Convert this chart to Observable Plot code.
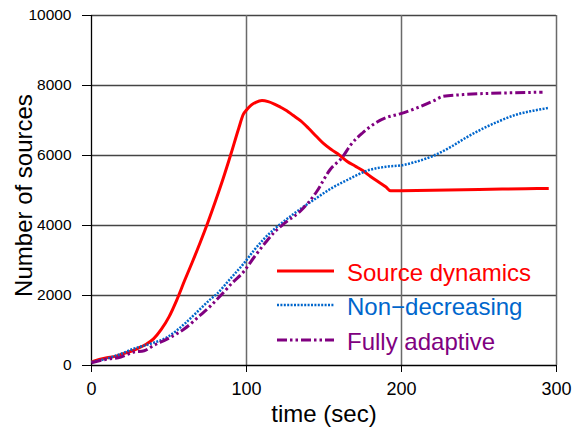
<!DOCTYPE html>
<html>
<head>
<meta charset="utf-8">
<script src="https://cdn.jsdelivr.net/npm/d3@7"></script>
<script src="https://cdn.jsdelivr.net/npm/@observablehq/plot@0.6"></script>
<style>
  html, body { margin: 0; padding: 0; background: #fff; }
  #chart svg { display: block; }
</style>
</head>
<body>
<div id="chart"></div>
<script>
// ---- data ----
const sourceT = [0, 5, 10, 15, 20, 25, 30, 35, 40, 45, 50, 55, 60, 65, 70, 75, 80, 85, 90, 95, 98, 100, 103, 106, 110, 114, 118, 122, 126, 130, 135, 140, 145, 150, 155, 160, 165, 170, 175, 180, 185, 190, 193, 200, 220, 250, 280, 295];
const sourceV = [100, 170, 220, 260, 330, 400, 490, 600, 760, 1030, 1390, 1870, 2420, 2950, 3500, 4080, 4700, 5350, 6050, 6780, 7180, 7300, 7440, 7520, 7570, 7540, 7470, 7380, 7280, 7150, 6990, 6780, 6550, 6330, 6160, 6010, 5830, 5700, 5570, 5400, 5250, 5100, 4990, 4995, 5010, 5030, 5050, 5060];

const nondecT = [0, 10, 20, 27, 38, 49, 60, 70, 77, 81, 88, 93, 98, 105, 112, 118, 125, 135, 145, 155, 165, 178, 190, 200, 210, 221, 232, 242, 253, 264, 275, 285, 295];
const nondecV = [100, 200, 350, 476, 620, 810, 1190, 1610, 1905, 2050, 2400, 2650, 2900, 3300, 3650, 3900, 4150, 4480, 4780, 5070, 5300, 5570, 5680, 5720, 5830, 6000, 6250, 6520, 6780, 7000, 7180, 7280, 7360];

const adaptT = [0, 10, 19, 27, 34, 40, 49, 60, 70, 77, 85, 91, 98, 105, 112, 118, 125, 135, 145, 154, 162, 167, 175, 184, 190, 199, 210, 221, 227, 240, 253, 270, 291];
const adaptV = [80, 180, 240, 380, 420, 570, 760, 1050, 1430, 1710, 2080, 2370, 2670, 3100, 3500, 3810, 4080, 4420, 4950, 5600, 5960, 6290, 6650, 6950, 7080, 7190, 7360, 7570, 7690, 7740, 7770, 7790, 7810];

const seriesNames = ["Source dynamics", "Non\u2212decreasing", "Fully adaptive"];
const seriesColors = ["#ff0000", "#0066cc", "#800080"];
const seriesDash = [null, "2,1.4", "10,3,2.5,3,2.5,3"];
const xTicks = [0, 100, 200, 300];
const yTicks = [0, 2000, 4000, 6000, 8000, 10000];
const xLabel = "time (sec)";
const yLabel = "Number of sources";

const toRows = (T, V) => T.map((t, i) => ({t, v: V[i]}));
const series = [toRows(sourceT, sourceV), toRows(nondecT, nondecV), toRows(adaptT, adaptV)];

const font = "'Liberation Sans', Arial, sans-serif";

// legend drawn as a function mark
function legendMark() {
  const g = d3.create("svg:g").attr("font-family", font).attr("text-anchor", "start");
  const x0 = 277, x1 = 334, tx = 347;
  const ys = [271, 305, 340];
  seriesNames.forEach((name, i) => {
    g.append("line")
      .attr("x1", x0).attr("x2", x1).attr("y1", ys[i]).attr("y2", ys[i])
      .attr("stroke", seriesColors[i])
      .attr("stroke-width", i === 1 ? 2.5 : 3)
      .attr("stroke-dasharray", seriesDash[i]);
    g.append("text")
      .attr("x", tx).attr("y", ys[i] + 2)
      .attr("dy", "0.35em")
      .attr("text-anchor", "start")
      .attr("font-size", 24)
      .attr("fill", seriesColors[i])
      .text(name);
  });
  return g.node();
}

const chart = Plot.plot({
  width: 576,
  height: 432,
  marginLeft: 91,
  marginRight: 20,
  marginTop: 15,
  marginBottom: 67,
  style: {fontFamily: font, background: "#fff", color: "#000"},
  x: {domain: [0, 300]},
  y: {domain: [0, 10000]},
  marks: [
    Plot.ruleY(yTicks.slice(1), {stroke: "#444", strokeWidth: 1.3, strokeOpacity: 1}),
    Plot.ruleX(xTicks.slice(1), {stroke: "#6a6a6a", strokeWidth: 1.5, strokeOpacity: 1}),
    Plot.ruleX([0], {stroke: "#000", strokeWidth: 1.3}),
    Plot.ruleY([0], {stroke: "#000", strokeWidth: 1.3}),
    Plot.axisX({ticks: xTicks, tickSize: 7, tickPadding: 10, fontSize: 18, label: null, stroke: "#000"}),
    Plot.axisY({ticks: yTicks, tickSize: 9, tickPadding: 11, fontSize: 15.5, label: null, tickFormat: d => String(d)}),
    ...series.map((rows, i) => Plot.line(rows, {
      x: "t", y: "v",
      stroke: seriesColors[i],
      strokeWidth: i === 1 ? 2.5 : 3,
      strokeDasharray: seriesDash[i],
      strokeLinejoin: "round",
      strokeLinecap: "butt",
      curve: "monotone-x"
    })),
    Plot.text([xLabel], {frameAnchor: "bottom", dy: 56, fontSize: 24, fill: "#000"}),
    Plot.text([yLabel], {frameAnchor: "left", dx: -67, dy: 5, rotate: -90, textAnchor: "middle", fontSize: 24, fill: "#000"}),
    legendMark
  ]
});
document.getElementById("chart").append(chart);
</script>
</body>
</html>
